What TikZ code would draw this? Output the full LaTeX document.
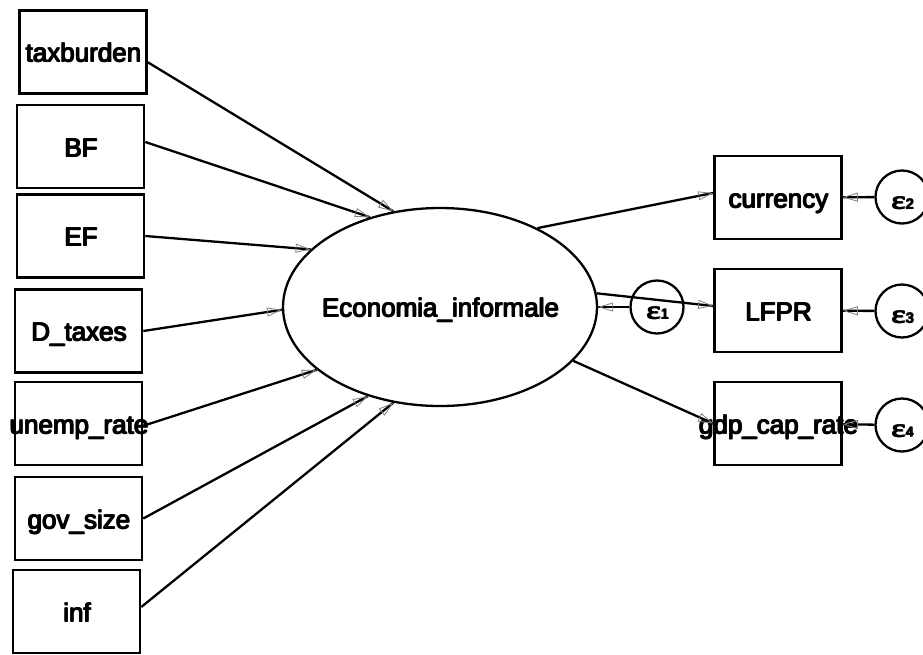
\documentclass[tikz,border=0pt]{standalone}
\usepackage{fontspec}
\setmainfont{Liberation Sans}
\newfontfamily\epsfont{Liberation Serif}
\usetikzlibrary{shapes.geometric,arrows.meta,decorations.markings}

% heavy, zero-width centred text: four slightly offset copies
\newcommand{\heavy}[1]{%
  \makebox[0pt]{#1}%
  \makebox[0pt]{\hspace{2.2pt}#1}%
  \makebox[0pt]{\raisebox{0.8pt}{#1}}%
  \makebox[0pt]{\hspace{2.2pt}\raisebox{0.8pt}{#1}}}

% error term label: epsilon with a small index
\newcommand{\errlab}[1]{\heavy{{\epsfont\fontsize{25}{25}\selectfont\scalebox{1.4}[1]{ε}}{\fontsize{14}{14}\selectfont #1}}}

\tikzset{
  obsbox/.style={draw, line width=2.6pt, rectangle, minimum width=127pt, minimum height=83pt,
    inner sep=0pt, font=\fontsize{26}{26}\selectfont, text height=21pt, text depth=0pt},
  latent/.style={draw, line width=2.3pt, ellipse, minimum width=314pt, minimum height=198pt,
    inner sep=0pt, font=\fontsize{26}{26}\selectfont, text height=21pt, text depth=0pt},
  errc/.style={draw, line width=2.3pt, circle, minimum size=53pt, inner sep=0pt,
    text height=24pt, text depth=0pt},
  conn/.style={line width=2.3pt,
    postaction={decorate, decoration={markings,
      mark=at position 1 with {\arrow{Triangle[open, length=15pt, width=9pt, line width=0.8pt, color=gray]}}}}}
}

\begin{document}
\begin{tikzpicture}[x=1pt, y=-1pt]
\useasboundingbox (0,0) rectangle (923,654);
\clip (0,0) rectangle (923,654);

% exogenous indicators
\node[obsbox] (tax)   at (83,52)      {\heavy{taxburden}};
\node[obsbox] (bf)    at (80.5,146.5) {\heavy{BF}};
\node[obsbox] (ef)    at (80.5,236)   {\heavy{EF}};
\node[obsbox] (dtax)  at (78.5,331)   {\heavy{D\_taxes}};
\node[obsbox] (unemp) at (78.5,423.5) {\heavy{unemp\_rate}};
\node[obsbox] (gov)   at (78.5,518.5) {\heavy{gov\_size}};
\node[obsbox] (inf)   at (76.5,611.5) {\heavy{inf}};

% latent variable
\node[latent] (E) at (440,307) {\heavy{Economia\_informale}};

% measured outcomes
\node[obsbox] (cur)  at (778,197.5) {\heavy{currency}};
\node[obsbox] (lfpr) at (778,310.5) {\heavy{LFPR}};
\node[obsbox] (gdp)  at (778,423.5) {\heavy{gdp\_cap\_rate}};

% error terms
\node[errc] (e1) at (657,307) {\errlab{1}};
\node[errc] (e2) at (902,197) {\errlab{2}};
\node[errc] (e3) at (902,311) {\errlab{3}};
\node[errc] (e4) at (902,425) {\errlab{4}};

% paths into the latent variable
\draw[conn] (tax.351)   -- (E.116);
\draw[conn] (bf.4)      -- (E.128);
\draw[conn] (ef.east)   -- (E.156);
\draw[conn] (dtax.east) -- (E.181);
\draw[conn] (unemp.358) -- (E.207);
\draw[conn] (gov.east)  -- (E.231);
\draw[conn] (inf.4)     -- (E.244);

% paths out of the latent variable
\draw[conn] (E.39)  -- (cur.176);
\draw[conn] (E.5)   -- (lfpr.176);
\draw[conn] (E.338) -- (gdp.west);

% error paths
\draw[conn] (e1) -- (E.0);
\draw[conn] (e2) -- (cur);
\draw[conn] (e3) -- (lfpr);
\draw[conn] (e4) -- (gdp);
\end{tikzpicture}
\end{document}
